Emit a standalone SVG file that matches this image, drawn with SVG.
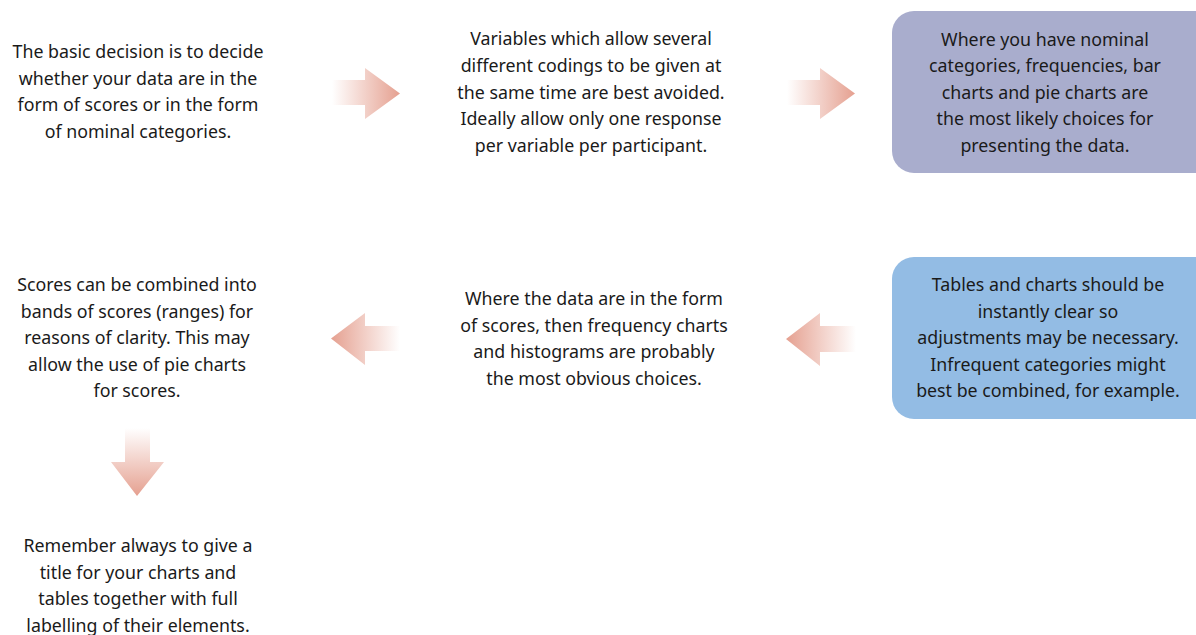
<svg xmlns="http://www.w3.org/2000/svg" width="1196" height="635" viewBox="0 0 1196 635">
<style>
text{font-family:"Noto Sans","Open Sans","Liberation Sans",sans-serif;font-size:17.8px;fill:#1a1a1a;text-anchor:middle}
.arr{stroke:none}
</style>
<defs>
<linearGradient id="gR" x1="0" y1="0" x2="1" y2="0"><stop offset="0" stop-color="#e5a090" stop-opacity="0"/><stop offset="1" stop-color="#e5a090"/></linearGradient>
<linearGradient id="gL" x1="1" y1="0" x2="0" y2="0"><stop offset="0" stop-color="#e5a090" stop-opacity="0"/><stop offset="1" stop-color="#e5a090"/></linearGradient>
<linearGradient id="gD" x1="0" y1="0" x2="0" y2="1"><stop offset="0" stop-color="#e5a090" stop-opacity="0"/><stop offset="1" stop-color="#e5a090"/></linearGradient>
</defs>
<g id="connectors">
<polygon class="arr" fill="url(#gR)" points="332,80 365,80 365,68 400,93.5 365,119 365,105 332,105"/>
<polygon class="arr" fill="url(#gR)" points="787,80 820,80 820,68 855,93.5 820,119 820,105 787,105"/>
<polygon class="arr" fill="url(#gL)" points="400,326 365,326 365,313 331,338.5 365,365 365,351 400,351"/>
<polygon class="arr" fill="url(#gL)" points="856,326 820,326 820,313 786,339 820,366 820,352 856,352"/>
<polygon class="arr" fill="url(#gD)" points="125,428 150,428 150,462 164,462 137,496 111,462 125,462"/>
</g>
<g id="n1">
<text x="138" y="58">The basic decision is to decide</text>
<text x="138" y="85">whether your data are in the</text>
<text x="138" y="111">form of scores or in the form</text>
<text x="138" y="138">of nominal categories.</text>
</g>
<g id="n2">
<text x="591" y="45">Variables which allow several</text>
<text x="591" y="72">different codings to be given at</text>
<text x="591" y="99">the same time are best avoided.</text>
<text x="591" y="125">Ideally allow only one response</text>
<text x="591" y="152">per variable per participant.</text>
</g>
<g id="n3">
<rect x="892" y="11" width="324" height="162" rx="22" fill="#a9adcd"/>
<text x="1045" y="46">Where you have nominal</text>
<text x="1045" y="72">categories, frequencies, bar</text>
<text x="1045" y="99">charts and pie charts are</text>
<text x="1045" y="125">the most likely choices for</text>
<text x="1045" y="152">presenting the data.</text>
</g>
<g id="n4">
<rect x="892" y="257" width="324" height="162" rx="22" fill="#93bce4"/>
<text x="1048" y="291">Tables and charts should be</text>
<text x="1048" y="318">instantly clear so</text>
<text x="1048" y="344">adjustments may be necessary.</text>
<text x="1048" y="371">Infrequent categories might</text>
<text x="1048" y="397">best be combined, for example.</text>
</g>
<g id="n5">
<text x="594" y="305">Where the data are in the form</text>
<text x="594" y="332">of scores, then frequency charts</text>
<text x="594" y="358">and histograms are probably</text>
<text x="594" y="385">the most obvious choices.</text>
</g>
<g id="n6">
<text x="137" y="291">Scores can be combined into</text>
<text x="137" y="318">bands of scores (ranges) for</text>
<text x="137" y="344">reasons of clarity. This may</text>
<text x="137" y="371">allow the use of pie charts</text>
<text x="137" y="397">for scores.</text>
</g>
<g id="n7">
<text x="138" y="552">Remember always to give a</text>
<text x="138" y="579">title for your charts and</text>
<text x="138" y="605">tables together with full</text>
<text x="138" y="632">labelling of their elements.</text>
</g>
</svg>
